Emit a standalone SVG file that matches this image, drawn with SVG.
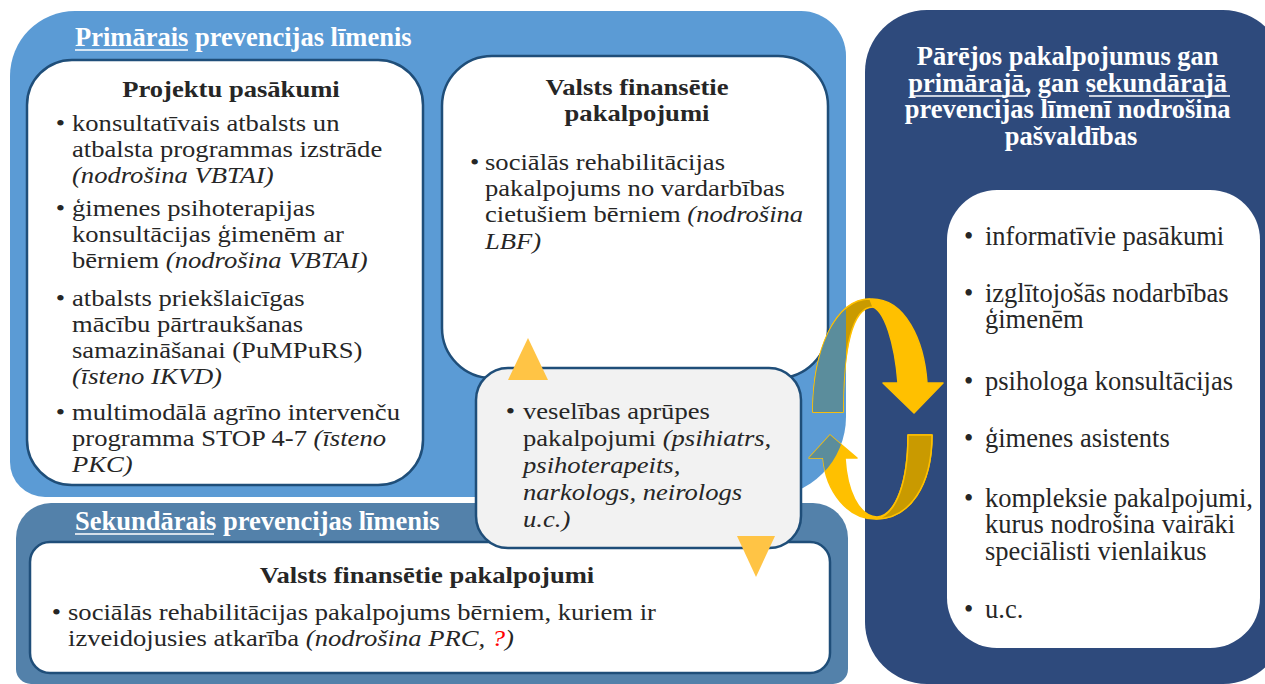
<svg xmlns="http://www.w3.org/2000/svg" xmlns:xlink="http://www.w3.org/1999/xlink" width="1265" height="684" viewBox="0 0 1265 684">
<style>
.t{font-family:"Liberation Serif","Times New Roman",serif;fill:#262626;font-size:23px}
.r{font-family:"Liberation Serif","Times New Roman",serif;fill:#262626;font-size:26.5px}
.hw{font-family:"Liberation Serif","Times New Roman",serif;fill:#ffffff;font-weight:bold;font-size:26.5px}
.hb{font-family:"Liberation Serif","Times New Roman",serif;fill:#262626;font-weight:bold;font-size:23px}
.i{font-style:italic}
.ul{stroke:#ffffff;stroke-width:1.6}
.card{fill:#ffffff;stroke:#1F4E79;stroke-width:2.5}
.tri{fill:#FFC445}
.front{fill:#FFC000;stroke:#FFC000;stroke-width:1.5;stroke-linejoin:round}
.back{fill:#C99A00;stroke:#FFC000;stroke-width:1.5;stroke-linejoin:round}
.teal{fill:#5B8D9C}
</style>
<defs>
<path id="primShape" d="M75,11 H801 A45,45 0 0 1 846,56 V417 A80,80 0 0 1 766,497 H45 A35,35 0 0 1 10,462 V76 A65,65 0 0 1 75,11 Z"/>
<clipPath id="primClip"><use xlink:href="#primShape"/></clipPath>
<path id="arrTop" d="M813,412 C813,350 835,299 872,299 C905,299 924,340 927,383 L943,383 L914,413 L883,383 L898,383 C895,345 885,308 870,306 C852,306 843,350 843,412 Z"/>
<path id="arrBot" d="M830,435 L857,458 L845,458 C847,490 858,516 877,517 C897,515 908,480 908,435 L932,435 C932,485 910,519 875,519 C848,519 826,492 823,458 L809,458 Z"/>
</defs>

<g id="primary-level">
<use xlink:href="#primShape" fill="#5B9BD5"/>
<text class="hw" x="75" y="46">Primārais prevencijas līmenis</text>
<line class="ul" x1="75" y1="50" x2="188" y2="50"/>
</g>

<g id="secondary-level">
<path d="M51,503 H813 A35,35 0 0 1 848,538 V669 A15,15 0 0 1 833,684 H31 A15,15 0 0 1 16,669 V538 A35,35 0 0 1 51,503 Z" fill="#5381AA"/>
<text class="hw" x="75" y="530" font-size="26">Sekundārais prevencijas līmenis</text>
<line class="ul" x1="75" y1="534" x2="214" y2="534"/>
</g>

<g id="municipal">
<rect x="865" y="10" width="420" height="674" rx="62" fill="#2E4A7C"/>
<text class="hw" text-anchor="middle">
<tspan x="1071" y="65">Pārējos pakalpojumus gan</tspan>
<tspan x="1071" y="92">primārajā, gan sekundārajā</tspan>
<tspan x="1071" y="118">prevencijas līmenī nodrošina</tspan>
<tspan x="1071" y="145">pašvaldības</tspan>
</text>
<line class="ul" x1="912" y1="96" x2="1028" y2="96"/>
<line class="ul" x1="1089" y1="96" x2="1230" y2="96"/>
</g>

<g id="municipal-services">
<rect x="947" y="190" width="313" height="458" rx="50" fill="#ffffff"/>
<text class="r">
<tspan x="964" y="245">•</tspan><tspan x="985" y="245">informatīvie pasākumi</tspan>
<tspan x="964" y="302">•</tspan><tspan x="985" y="302">izglītojošās nodarbības</tspan>
<tspan x="985" y="328">ģimenēm</tspan>
<tspan x="964" y="390">•</tspan><tspan x="985" y="390">psihologa konsultācijas</tspan>
<tspan x="964" y="447">•</tspan><tspan x="985" y="447">ģimenes asistents</tspan>
<tspan x="964" y="507">•</tspan><tspan x="985" y="507">kompleksie pakalpojumi,</tspan>
<tspan x="985" y="533">kurus nodrošina vairāki</tspan>
<tspan x="985" y="560">speciālisti vienlaikus</tspan>
<tspan x="964" y="618">•</tspan><tspan x="985" y="618">u.c.</tspan>
</text>
</g>

<g id="project-activities">
<rect class="card" x="27" y="60" width="396" height="425" rx="45"/>
<text class="hb" text-anchor="middle" transform="translate(231 0) scale(1.157 1)"><tspan x="0" y="97">Projektu pasākumi</tspan></text>
<text class="t" transform="translate(72 0) scale(1.157 1)">
<tspan x="-14" y="131">•</tspan><tspan x="0" y="131">konsultatīvais atbalsts un</tspan>
<tspan x="0" y="157">atbalsta programmas izstrāde</tspan>
<tspan x="0" y="183" class="i">(nodrošina VBTAI)</tspan>
<tspan x="-14" y="216">•</tspan><tspan x="0" y="216">ģimenes psihoterapijas</tspan>
<tspan x="0" y="242">konsultācijas ģimenēm ar</tspan>
<tspan x="0" y="268">bērniem <tspan class="i">(nodrošina VBTAI)</tspan></tspan>
<tspan x="-14" y="306">•</tspan><tspan x="0" y="306">atbalsts priekšlaicīgas</tspan>
<tspan x="0" y="332">mācību pārtraukšanas</tspan>
<tspan x="0" y="358">samazināšanai (PuMPuRS)</tspan>
<tspan x="0" y="384" class="i">(īsteno IKVD)</tspan>
<tspan x="-14" y="420">•</tspan><tspan x="0" y="420">multimodālā agrīno intervenču</tspan>
<tspan x="0" y="446">programma STOP 4-7 <tspan class="i">(īsteno</tspan></tspan>
<tspan x="0" y="472" class="i">PKC)</tspan>
</text>
</g>

<g id="state-services-primary">
<rect class="card" x="442" y="56" width="386" height="322" rx="50"/>
<text class="hb" text-anchor="middle" transform="translate(637 0) scale(1.157 1)"><tspan x="0" y="95">Valsts finansētie</tspan><tspan x="0" y="121">pakalpojumi</tspan></text>
<text class="t" transform="translate(485 0) scale(1.157 1)">
<tspan x="-13" y="170">•</tspan><tspan x="0" y="170">sociālās rehabilitācijas</tspan>
<tspan x="0" y="196">pakalpojums no vardarbības</tspan>
<tspan x="0" y="222">cietušiem bērniem <tspan class="i">(nodrošina</tspan></tspan>
<tspan x="0" y="249" class="i">LBF)</tspan>
</text>
</g>

<g id="state-services-secondary">
<rect class="card" x="30" y="542" width="800" height="131" rx="20"/>
<text class="hb" text-anchor="middle" transform="translate(427 0) scale(1.157 1)"><tspan x="0" y="583">Valsts finansētie pakalpojumi</tspan></text>
<text class="t" transform="translate(68 0) scale(1.157 1)">
<tspan x="-14" y="620">•</tspan><tspan x="0" y="620">sociālās rehabilitācijas pakalpojums bērniem, kuriem ir</tspan>
<tspan x="0" y="646">izveidojusies atkarība <tspan class="i">(nodrošina PRC, <tspan fill="#FF0000">?</tspan>)</tspan></tspan>
</text>
</g>

<g id="health-care">
<rect x="476" y="368" width="325" height="180" rx="32" fill="#F2F2F2" stroke="#1F4E79" stroke-width="2.5"/>
<text class="t" transform="translate(523 0) scale(1.157 1)">
<tspan x="-15" y="419">•</tspan><tspan x="0" y="419">veselības aprūpes</tspan>
<tspan x="0" y="446">pakalpojumi <tspan class="i">(psihiatrs,</tspan></tspan>
<tspan x="0" y="473" class="i">psihoterapeits,</tspan>
<tspan x="0" y="500" class="i">narkologs, neirologs</tspan>
<tspan x="0" y="527" class="i">u.c.)</tspan>
</text>
</g>

<g id="connectors">
<polygon class="tri" points="528,338 508,380 548,380"/>
<polygon class="tri" points="737,536 775,536 756,577"/>
<use xlink:href="#arrTop" class="front"/>
<path class="back" d="M813,412 C813,350 835,299 870,299 L873,307 C852,307 843,350 843,412 Z"/>
<use xlink:href="#arrBot" class="front"/>
<path class="back" d="M908,435 L932,435 C932,485 910,519 876,519 C897,515 908,480 908,435 Z"/>
<g clip-path="url(#primClip)">
<use xlink:href="#arrTop" class="teal"/>
<use xlink:href="#arrBot" class="teal"/>
</g>
</g>
</svg>
